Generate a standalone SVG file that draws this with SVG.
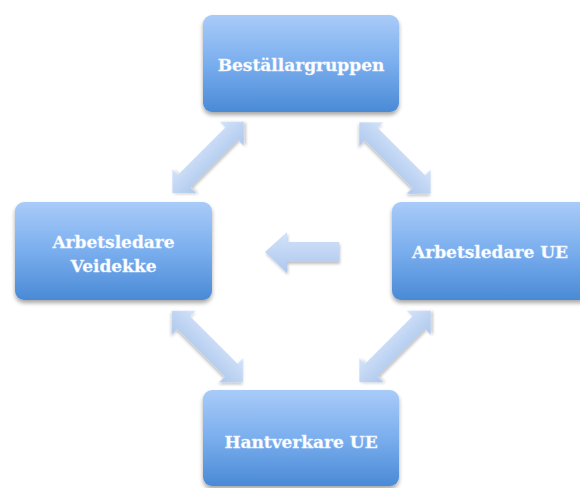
<svg xmlns="http://www.w3.org/2000/svg" width="580" height="488" viewBox="0 0 580 488">
<defs>
<linearGradient id="boxGrad" x1="0" y1="0" x2="0" y2="1">
<stop offset="0" stop-color="#a9cbf8"/>
<stop offset="0.5" stop-color="#7aaeee"/>
<stop offset="1" stop-color="#4a8ad6"/>
</linearGradient>
<linearGradient id="arrGrad" x1="0" y1="0" x2="0" y2="1">
<stop offset="0" stop-color="#d3e3fa"/>
<stop offset="1" stop-color="#adc7ec"/>
</linearGradient>
<filter id="shadow" x="-10%" y="-10%" width="125%" height="130%">
<feGaussianBlur in="SourceAlpha" stdDeviation="2"/>
<feOffset dx="0" dy="3" result="b"/>
<feComponentTransfer><feFuncA type="linear" slope="0.35"/></feComponentTransfer>
<feMerge><feMergeNode/><feMergeNode in="SourceGraphic"/></feMerge>
</filter>
<filter id="ashadow" x="-20%" y="-20%" width="140%" height="140%">
<feGaussianBlur in="SourceAlpha" stdDeviation="1.5"/>
<feOffset dx="1" dy="2" result="b"/>
<feComponentTransfer><feFuncA type="linear" slope="0.25"/></feComponentTransfer>
<feMerge><feMergeNode/><feMergeNode in="SourceGraphic"/></feMerge>
</filter>
<path id="dbl" d="M-50.5,0 L-33.5,-17 L-33.5,-9 L33.5,-9 L33.5,-17 L50.5,0 L33.5,17 L33.5,9 L-33.5,9 L-33.5,17 Z"/>
</defs>
<style>
.box{fill:url(#boxGrad);filter:url(#shadow)}
.lbl{font-family:"DejaVu Serif","Liberation Serif",serif;font-weight:bold;font-size:17px;fill:#ffffff;text-anchor:middle;stroke:#e8f0ff;stroke-width:0.3}
.arr{fill:url(#arrGrad);filter:url(#ashadow)}
</style>
<rect width="580" height="488" fill="#ffffff"/>
<g id="connectors">
<use href="#dbl" class="arr" transform="translate(208,157.5) rotate(-45)"/>
<use href="#dbl" class="arr" transform="translate(395,158) rotate(45)"/>
<use href="#dbl" class="arr" transform="translate(207.5,346.5) rotate(45)"/>
<use href="#dbl" class="arr" transform="translate(395,346.5) rotate(-45)"/>
<path class="arr" d="M265,252 L287,232 L287,242 L339,242 L339,262 L287,262 L287,273 Z"/>
</g>
<g id="node-bestallargruppen">
<rect class="box" x="203" y="15" width="196" height="97" rx="9"/>
<text class="lbl" x="301" y="71">Beställargruppen</text>
</g>
<g id="node-arbetsledare-veidekke">
<rect class="box" x="15" y="202" width="197" height="98" rx="9"/>
<text class="lbl" x="113.5" y="248">Arbetsledare</text>
<text class="lbl" x="113.5" y="272">Veidekke</text>
</g>
<g id="node-arbetsledare-ue">
<rect class="box" x="392" y="202" width="197" height="98" rx="9"/>
<text class="lbl" x="490" y="258">Arbetsledare UE</text>
</g>
<g id="node-hantverkare-ue">
<rect class="box" x="203" y="390" width="196" height="96" rx="9"/>
<text class="lbl" x="301" y="448">Hantverkare UE</text>
</g>
</svg>
